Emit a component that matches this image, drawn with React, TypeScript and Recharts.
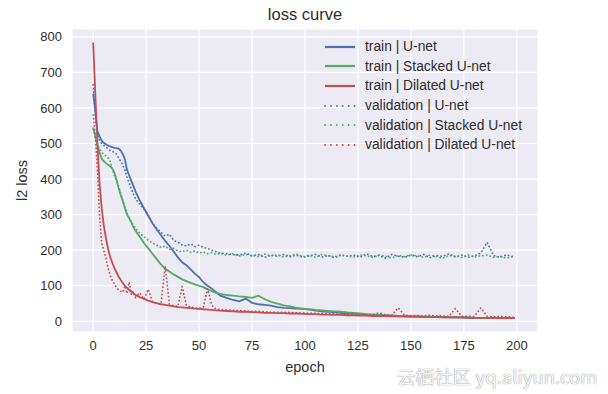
import React from "react";
import {
  LineChart,
  Line,
  XAxis,
  YAxis,
  CartesianGrid,
  Legend,
} from "recharts";

// epochs (dense at the start, sparser later)
const epochs = [
  0, 1, 2, 3, 4, 5, 6, 7, 8, 9, 10,
  11, 12, 13, 14, 15, 16, 17, 18, 19, 20,
  22, 24, 26, 28, 30, 32, 34, 36, 38, 40,
  42, 44, 46, 48, 50, 52, 54, 56, 58, 60,
  63, 66, 69, 72, 75, 78, 81, 84, 87, 90,
  93, 96, 99, 102, 105, 108, 111, 114, 117, 120,
  123, 126, 129, 132, 135, 138, 141, 144, 147, 150,
  153, 156, 159, 162, 165, 168, 171, 174, 177, 180,
  183, 186, 189, 192, 195, 198, 199,
];

const trainUnet = [
  640, 590, 535, 520, 508, 502, 498, 494, 492, 490, 488,
  487, 486, 480, 470, 455, 425, 410, 395, 380, 365,
  340, 318, 296, 276, 258, 242, 226, 212, 196, 180,
  166, 158, 146, 134, 124, 110, 100, 92, 82, 72,
  66, 60, 56, 64, 52, 48, 46, 44, 40, 38,
  37, 36, 35, 33, 30, 28, 27, 25, 24, 22,
  21, 20, 19, 18, 17, 17, 16, 15, 15, 14,
  14, 13, 13, 12, 12, 12, 11, 11, 11, 10,
  10, 10, 10, 9, 9, 9, 9,
];

const trainStacked = [
  545, 520, 495, 475, 458, 450, 445, 440, 436, 430, 418,
  398, 375, 355, 338, 318, 300, 290, 278, 265, 255,
  238, 220, 205, 190, 175, 160, 148, 140, 132, 125,
  118, 113, 108, 104, 100, 96, 90, 85, 80, 77,
  74, 72, 70, 69, 66, 72, 62, 55, 50, 45,
  42, 38, 36, 34, 32, 31, 29, 28, 27, 25,
  24, 22, 20, 19, 18, 17, 16, 15, 15, 14,
  13, 13, 12, 12, 12, 11, 11, 11, 10, 10,
  10, 10, 9, 9, 9, 9, 9,
];

const trainDilated = [
  784, 640, 500, 390, 320, 270, 235, 205, 182, 165, 150,
  138, 126, 116, 108, 100, 94, 88, 83, 78, 74,
  68, 63, 58, 54, 51, 48, 46, 44, 42, 40,
  39, 38, 37, 36, 35, 34, 33, 32, 31, 30,
  29, 28, 27, 27, 26, 25, 24, 24, 23, 23,
  22, 22, 21, 20, 20, 19, 19, 18, 18, 17,
  17, 16, 16, 15, 15, 15, 14, 14, 13, 13,
  13, 12, 12, 12, 11, 11, 11, 11, 10, 10,
  10, 10, 10, 9, 9, 9, 9,
];

const valUnet = [
  665, 580, 530, 510, 500, 495, 490, 485, 480, 478, 475,
  470, 460, 450, 440, 425, 405, 390, 372, 358, 345,
  330, 315, 300, 275, 262, 250, 240, 245, 228, 222,
  215, 212, 218, 210, 214, 208, 205, 200, 196, 192,
  190, 188, 186, 192, 184, 188, 180, 186, 183, 188,
  182, 186, 180, 184, 188, 181, 185, 179, 187, 183,
  186, 180, 190, 182, 185, 178, 188, 183, 180, 186,
  182, 188, 179, 185, 183, 190, 181, 186, 180, 184,
  192, 222, 185, 180, 187, 182, 184,
];

const valStacked = [
  540, 520, 500, 485, 475, 470, 465, 460, 450, 430, 410,
  395, 380, 360, 340, 320, 305, 290, 280, 270, 262,
  248, 238, 228, 220, 214, 208, 212, 202, 205, 198,
  196, 200, 194, 198, 192, 195, 190, 193, 188, 191,
  186, 190, 184, 188, 185, 182, 189, 184, 187, 181,
  185, 189, 182, 186, 180, 188, 184, 182, 186, 183,
  181, 187, 184, 180, 186, 183, 178, 185, 182, 187,
  184, 180, 186, 182, 178, 185, 183, 180, 187, 181,
  184, 186, 180, 183, 178, 182, 180,
];

const valDilated = [
  580, 520, 430, 300, 220, 200, 180, 150, 130, 115, 105,
  95, 88, 84, 82, 100, 78, 110, 75, 85, 68,
  80, 62, 90, 55, 50, 50, 155, 48, 44, 42,
  98, 45, 40, 38, 36, 40, 92, 45, 34, 33,
  32, 31, 30, 29, 28, 28, 27, 26, 26, 25,
  25, 24, 24, 23, 22, 22, 21, 21, 20, 20,
  19, 18, 18, 19, 24, 18, 17, 38, 17, 16,
  16, 15, 17, 15, 15, 14, 36, 14, 15, 14,
  38, 14, 13, 14, 13, 12, 12,
];

const xTicks = [0, 25, 50, 75, 100, 125, 150, 175, 200];
const yTicks = [0, 100, 200, 300, 400, 500, 600, 700, 800];

const BLUE = "#4C72B0";
const GREEN = "#55A868";
const RED = "#C44E52";
const FONT = "'Liberation Sans', Arial, sans-serif";
const TEXT = "#2e2e2e";

const series = [
  { key: "trainUnet", name: "train | U-net", color: BLUE, dotted: false },
  { key: "trainStacked", name: "train | Stacked U-net", color: GREEN, dotted: false },
  { key: "trainDilated", name: "train | Dilated U-net", color: RED, dotted: false },
  { key: "valUnet", name: "validation | U-net", color: BLUE, dotted: true },
  { key: "valStacked", name: "validation | Stacked U-net", color: GREEN, dotted: true },
  { key: "valDilated", name: "validation | Dilated U-net", color: RED, dotted: true },
];

const data = epochs.map((epoch, i) => ({
  epoch,
  trainUnet: trainUnet[i],
  trainStacked: trainStacked[i],
  trainDilated: trainDilated[i],
  valUnet: valUnet[i],
  valStacked: valStacked[i],
  valDilated: valDilated[i],
}));

function LegendBox() {
  return (
    <div style={{ fontFamily: FONT, fontSize: 13.8, color: TEXT }}>
      {series.map((s) => (
        <div
          key={s.key}
          style={{ display: "flex", alignItems: "center", height: 19.6 }}
        >
          <svg width={43} height={8} style={{ flex: "none" }}>
            <line
              x1={3}
              y1={4}
              x2={33}
              y2={4}
              stroke={s.color}
              strokeWidth={s.dotted ? 1.8 : 2.2}
              strokeDasharray={s.dotted ? "0.1 5.8" : undefined}
              strokeLinecap={s.dotted ? "round" : "butt"}
            />
          </svg>
          <span style={{ whiteSpace: "nowrap" }}>{s.name}</span>
        </div>
      ))}
    </div>
  );
}

export default function App() {
  return (
    <div style={{ position: "absolute", left: 0, top: 0, width: 608, height: 394, background: "#fff" }}>
      <div
        style={{
          position: "absolute",
          left: 72,
          width: 466,
          top: 5,
          textAlign: "center",
          fontFamily: FONT,
          fontSize: 16.5,
          color: TEXT,
        }}
      >
        loss curve
      </div>
      <LineChart
        width={608}
        height={394}
        data={data}
        margin={{ top: 29, right: 70, bottom: 32, left: 32 }}
      >
        <CartesianGrid fill="#ECEAF3" stroke="#ffffff" strokeWidth={1.2} />
        <XAxis
          dataKey="epoch"
          type="number"
          domain={[-10, 210]}
          ticks={xTicks}
          axisLine={false}
          tickLine={false}
          tickMargin={3}
          height={30}
          tick={{ fill: TEXT, fontSize: 13, fontFamily: FONT }}
          label={{
            value: "epoch",
            position: "insideBottom",
            offset: -10,
            fill: TEXT,
            fontSize: 14.5,
            fontFamily: FONT,
          }}
        />
        <YAxis
          type="number"
          domain={[-30, 822]}
          ticks={yTicks}
          axisLine={false}
          tickLine={false}
          tickMargin={4}
          width={40}
          tick={{ fill: TEXT, fontSize: 13, fontFamily: FONT }}
          label={{
            value: "l2 loss",
            angle: -90,
            position: "insideLeft",
            offset: -10,
            fill: TEXT,
            fontSize: 14.5,
            fontFamily: FONT,
            style: { textAnchor: "middle" },
          }}
        />
        <Legend
          layout="vertical"
          align="center"
          verticalAlign="middle"
          content={() => <LegendBox />}
          wrapperStyle={{ position: "absolute", left: 322, top: 37, width: 230, height: "auto" }}
        />
        {series.map((s) => (
          <Line
            key={s.key}
            type="linear"
            dataKey={s.key}
            name={s.name}
            stroke={s.color}
            strokeWidth={1.8}
            strokeDasharray={s.dotted ? "0.1 3.6" : undefined}
            strokeLinecap={s.dotted ? "round" : "butt"}
            dot={false}
            activeDot={false}
            isAnimationActive={false}
          />
        ))}
      </LineChart>
      <div
        style={{
          position: "absolute",
          left: 397,
          top: 362,
          fontFamily: "'Noto Sans CJK SC', sans-serif",
          fontSize: 18.6,
          color: "rgba(255,255,255,0.95)",
          textShadow: "0 0 1px #9a9a9a, 0 0 1px #9a9a9a",
          whiteSpace: "nowrap",
        }}
      >
        云栖社区 yq.aliyun.com
      </div>
    </div>
  );
}
